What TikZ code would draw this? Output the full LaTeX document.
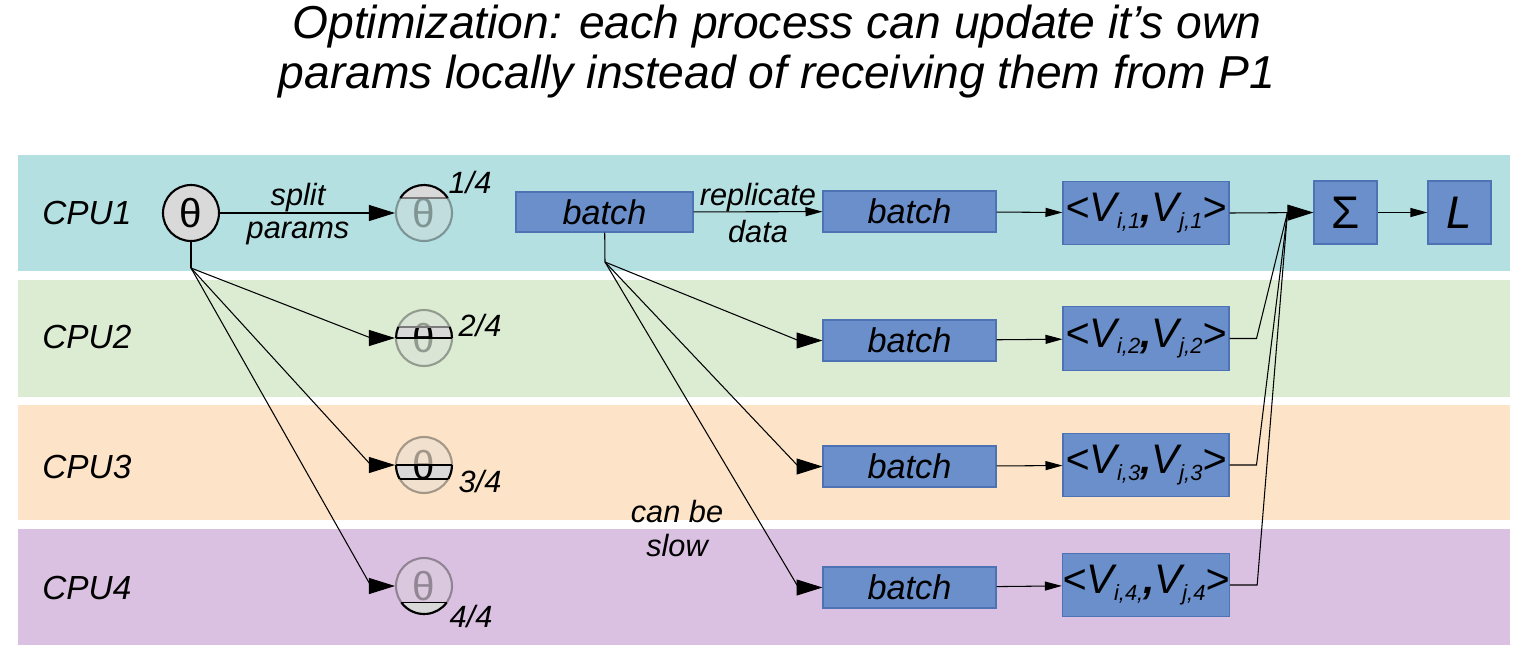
\documentclass[tikz,border=0pt]{standalone}
\usepackage{fontspec}
\setmainfont{Liberation Sans}
\usetikzlibrary{arrows.meta,calc}
\definecolor{bandA}{HTML}{B5E0E1}
\definecolor{bandB}{HTML}{DCECD3}
\definecolor{bandC}{HTML}{FDE4C8}
\definecolor{bandD}{HTML}{DBC1E1}
\definecolor{boxF}{HTML}{6A8FCA}
\definecolor{boxB}{HTML}{4E73B4}
\definecolor{thgray}{HTML}{D9D9D9}
\definecolor{chordgray}{HTML}{7A7A7A}
\newcommand{\vsub}[1]{\raisebox{-0.3ex}{\fontsize{12.5}{13}\selectfont\itshape #1}}
\newcommand{\vpr}[2]{<V\vsub{#1}\textbf{,}V\vsub{#2}>}
\begin{document}
\begin{tikzpicture}[x=0.02cm,y=0.02cm,
  cpu/.style={font=\fontsize{19}{22}\selectfont\itshape, anchor=west, inner sep=0},
  lbl/.style={font=\fontsize{17.5}{20}\selectfont\itshape, inner sep=0},
  ttl/.style={font=\fontsize{26.3}{30}\selectfont\itshape, inner sep=0},
  blk/.style={draw=boxB, fill=boxF, line width=0.6pt, inner sep=0, font=\fontsize{19.5}{22}\selectfont\itshape},
  vblk/.style={blk, minimum width=3.32cm, minimum height=1.27cm, font=\fontsize{23.5}{26}\selectfont\itshape},
  thmain/.style={circle, draw=black, line width=1.2pt, fill=thgray, minimum size=1.12cm, inner sep=0, font=\fontsize{23}{26}\selectfont},
  thfade/.style={circle, draw=black, draw opacity=0.33, line width=1.2pt, fill=thgray, fill opacity=0.35, text=black, text opacity=0.33, minimum size=1.12cm, inner sep=0, font=\fontsize{23}{26}\selectfont},
  conn/.style={line width=0.6pt},
  bigtip/.style={conn, -{Triangle[length=0.52cm,width=0.32cm]}},
  smalltip/.style={conn, -{Triangle[length=0.34cm,width=0.18cm]}},
  segf/.style={fill=thgray},
  segarc/.style={draw=black, line width=1.2pt},
  segchord/.style={draw=black, line width=0.8pt},
  seggray/.style={draw=chordgray, line width=0.8pt}
]
\useasboundingbox (0,0) rectangle (1526,-657);
% bands
\fill[bandA] (18,-155) rectangle (1510,-271);
\fill[bandB] (18,-280) rectangle (1510,-397);
\fill[bandC] (18,-405) rectangle (1510,-520);
\fill[bandD] (18,-529) rectangle (1510,-645);
% title
\node[ttl] (t1) at (777,-27) {Optimization: each process can update it’s own};
\node[ttl] (t2) at (777,-77) {params locally instead of receiving them from P1};
% cpu labels
\node[cpu] (c1) at (42,-213) {CPU1};
\node[cpu] (c2) at (42,-337) {CPU2};
\node[cpu] (c3) at (42,-467) {CPU3};
\node[cpu] (c4) at (42,-588) {CPU4};
% theta
\node[thmain] (th) at (191,-213) {θ};
\node[thfade] (th1) at (424,-213) {θ};
\node[thfade] (th2) at (424,-338) {θ};
\node[thfade] (th3) at (424,-465) {θ};
\node[thfade] (th4) at (424,-586) {θ};
% 1/4 segment
\fill[segf] ($(th1)+(32.4:28)$) arc[start angle=32.4,end angle=147.6,radius=28] -- cycle;
\draw[seggray] ($(th1)+(-23.6,15)$) -- ($(th1)+(23.6,15)$);
\draw[segarc] ($(th1)+(32.4:28)$) arc[start angle=32.4,end angle=147.6,radius=28];
% 2/4 band
\fill[segf] ($(th2)+(28,0)$) arc[start angle=0,end angle=23.1,radius=28] -- ($(th2)+(-25.7,11)$) arc[start angle=156.9,end angle=180,radius=28] -- cycle;
\begin{scope}
\clip ($(th2)+(28,0)$) arc[start angle=0,end angle=23.1,radius=28] -- ($(th2)+(-25.7,11)$) arc[start angle=156.9,end angle=180,radius=28] -- cycle;
\node[inner sep=0, font=\fontsize{23}{26}\selectfont] (th2b) at (th2.center) {θ};
\end{scope}
\draw[seggray] ($(th2)+(-25.7,11)$) -- ($(th2)+(25.7,11)$);
\draw[segchord] ($(th2)+(-28,0)$) -- ($(th2)+(28,0)$);
\draw[segarc] ($(th2)+(28,0)$) arc[start angle=0,end angle=23.1,radius=28];
\draw[segarc] ($(th2)+(-25.7,11)$) arc[start angle=156.9,end angle=180,radius=28];
% 3/4 band
\fill[segf] ($(th3)+(-28,0)$) arc[start angle=180,end angle=210,radius=28] -- ($(th3)+(24.2,-14)$) arc[start angle=-30,end angle=0,radius=28] -- cycle;
\begin{scope}
\clip ($(th3)+(-28,0)$) arc[start angle=180,end angle=210,radius=28] -- ($(th3)+(24.2,-14)$) arc[start angle=-30,end angle=0,radius=28] -- cycle;
\node[inner sep=0, font=\fontsize{23}{26}\selectfont] (th3b) at (th3.center) {θ};
\end{scope}
\draw[segchord] ($(th3)+(-28,0)$) -- ($(th3)+(28,0)$);
\draw[segchord] ($(th3)+(-24.2,-14)$) -- ($(th3)+(24.2,-14)$);
\draw[segarc] ($(th3)+(-28,0)$) arc[start angle=180,end angle=210,radius=28];
\draw[segarc] ($(th3)+(24.2,-14)$) arc[start angle=-30,end angle=0,radius=28];
% 4/4 segment
\fill[segf] ($(th4)+(-22.6,-16.5)$) arc[start angle=216.1,end angle=323.9,radius=28] -- cycle;
\draw[segchord] ($(th4)+(-22.6,-16.5)$) -- ($(th4)+(22.6,-16.5)$);
\draw[segarc] ($(th4)+(-22.6,-16.5)$) arc[start angle=216.1,end angle=323.9,radius=28];
% fractions
\node[lbl] (f1) at (470,-183) {1/4};
\node[lbl] (f2) at (480,-326) {2/4};
\node[lbl] (f3) at (480,-481) {3/4};
\node[lbl] (f4) at (471,-616) {4/4};
% theta connectors
\draw[bigtip] (th) -- (th1);
\node[lbl] (sp1) at (298,-198) {split};
\node[lbl] (sp2) at (298,-233) {params};
\coordinate (thb) at (191,-268);
\draw[conn] (th) -- (thb);
\draw[bigtip] (thb) -- ($(th2.west)+(-24,0)$) -- (th2.west);
\draw[bigtip] (thb) -- ($(th3.west)+(-24,0)$) -- (th3.west);
\draw[bigtip] (thb) -- ($(th4.west)+(-24,0)$) -- (th4.west);
% batches
\node[blk, minimum width=3.54cm, minimum height=0.8cm] (b0) at (604.5,-212) {batch};
\node[blk, minimum width=3.46cm, minimum height=0.82cm] (b1) at (909.5,-211.5) {batch};
\node[blk, minimum width=3.46cm, minimum height=0.82cm] (b2) at (909.5,-340.5) {batch};
\node[blk, minimum width=3.46cm, minimum height=0.82cm] (b3) at (909.5,-466.5) {batch};
\node[blk, minimum width=3.46cm, minimum height=0.82cm] (b4) at (909.5,-587.5) {batch};
\draw[smalltip] (b0) -- (b1);
\node[lbl] (rp1) at (758,-198) {replicate};
\node[lbl] (rp2) at (758,-232) {data};
\coordinate (b0b) at (605,-262);
\draw[conn] (b0) -- (b0b);
\draw[bigtip] (b0b) -- ($(b2.west)+(-24,0)$) -- (b2.west);
\draw[bigtip] (b0b) -- ($(b3.west)+(-24,0)$) -- (b3.west);
\draw[bigtip] (b0b) -- ($(b4.west)+(-24,0)$) -- (b4.west);
\node[lbl] (cb1) at (677,-511) {can be};
\node[lbl] (cb2) at (677,-545) {slow};
% V boxes
\node[vblk] (v1) at (1146,-213) {\vpr{i,1}{j,1}};
\node[vblk] (v2) at (1146,-338.5) {\vpr{i,2}{j,2}};
\node[vblk] (v3) at (1146,-465) {\vpr{i,3}{j,3}};
\node[vblk] (v4) at (1146,-585) {\vpr{i,4,}{j,4}};
\draw[smalltip] (b1) -- (v1);
\draw[smalltip] (b2) -- (v2);
\draw[smalltip] (b3) -- (v3);
\draw[smalltip] (b4) -- (v4);
% sum and loss
\node[blk, minimum width=1.26cm, minimum height=1.26cm, font=\fontsize{26}{28}\selectfont] (sg) at (1345.5,-212.5) {Σ};
\node[blk, minimum width=1.26cm, minimum height=1.26cm, font=\fontsize{26}{28}\selectfont\itshape] (ls) at (1459.5,-212.5) {L};
\coordinate (mrg) at ($(sg.west)+(-26,0)$);
\draw[conn] (v2.east) -- ++(27,0) -- (mrg);
\draw[conn] (v3.east) -- ++(27,0) -- (mrg);
\draw[conn] (v4.east) -- ++(27,0) -- (mrg);
\draw[bigtip] (v1.east) -- (sg.west);
\draw[smalltip] (sg) -- (ls);
\end{tikzpicture}
\end{document}
